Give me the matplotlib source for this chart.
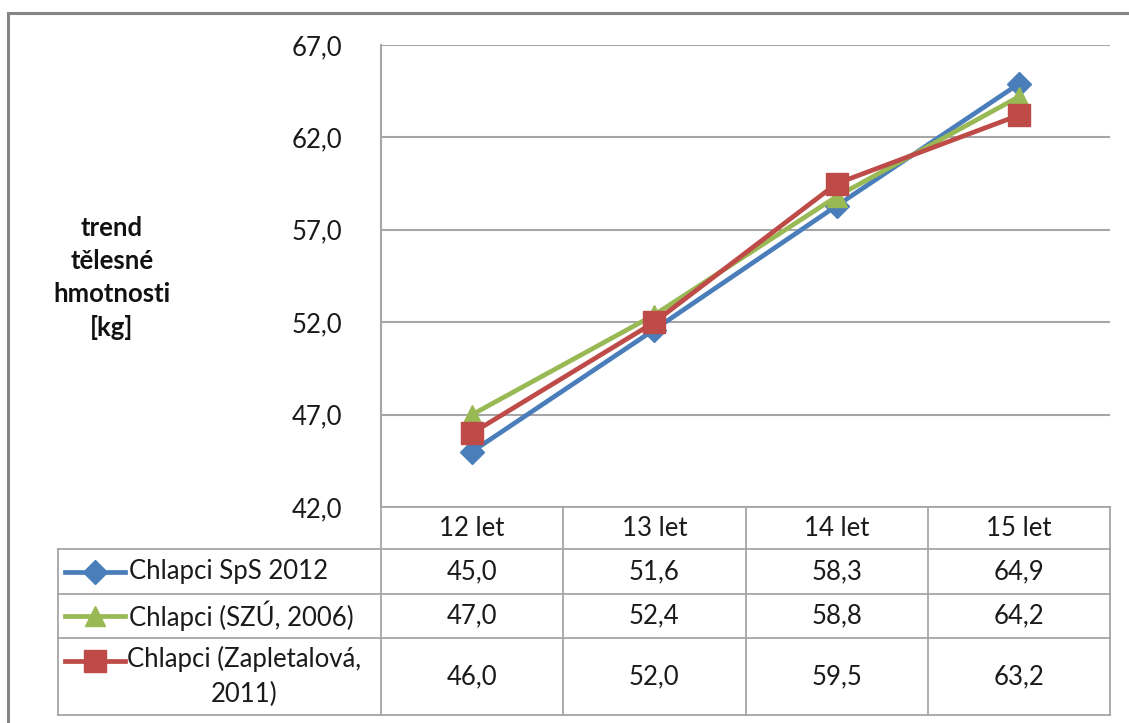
import matplotlib
matplotlib.use("Agg")
import matplotlib.pyplot as plt

plt.rcParams['font.family'] = ['Lato', 'DejaVu Sans']

categories = ["12 let", "13 let", "14 let", "15 let"]
series_names = ["Chlapci SpS 2012", "Chlapci (SZÚ, 2006)", "Chlapci (Zapletalová,\n2011)"]
sps_2012 = [45.0, 51.6, 58.3, 64.9]
szu_2006 = [47.0, 52.4, 58.8, 64.2]
zapletalova_2011 = [46.0, 52.0, 59.5, 63.2]
yticks = [42.0, 47.0, 52.0, 57.0, 62.0, 67.0]
ylabel = "trend\ntělesné\nhmotnosti\n[kg]"

series = [sps_2012, szu_2006, zapletalova_2011]
colors = ["#4a7ebb", "#98b954", "#be4b48"]
markers = ["D", "^", "s"]
msizes = [12, 14, 16]

FS = 18.5
TXT = "#1a1a1a"
W, H = 1129, 723
fig = plt.figure(figsize=(W / 100, H / 100), dpi=100)

# overlay axes in pixel coordinates for frame & table
ov = fig.add_axes([0, 0, 1, 1])
ov.set_xlim(0, W)
ov.set_ylim(H, 0)
ov.axis("off")

grid_c = "#a6a6a6"
# outer border
ov.plot([8, 8], [13, H + 5], color="#858585", lw=2.2, clip_on=False)
ov.plot([8, W + 5], [13, 13], color="#858585", lw=2.2, clip_on=False)

# main plot
L, R, T, B = 381, 1110, 45, 507
ax = fig.add_axes([L / W, (H - B) / H, (R - L) / W, (B - T) / H])
x = list(range(len(categories)))
for vals, c, m, ms in zip(series, colors, markers, msizes):
    ax.plot(x, vals, color=c, lw=3.4, marker=m, markersize=ms,
            markeredgecolor=c, zorder=3)
ax.set_xlim(-0.5, len(categories) - 0.5)
ax.set_ylim(yticks[0], yticks[-1])
ax.set_yticks(yticks)
ax.set_yticklabels([f"{v:.1f}".replace(".", ",") for v in yticks], fontsize=FS, color=TXT)
ax.set_xticks([])
ax.tick_params(axis="y", length=0, pad=28)
for s in ["top", "right", "bottom"]:
    ax.spines[s].set_visible(False)
ax.spines["left"].set_color(grid_c)
ax.spines["left"].set_linewidth(1.5)
ax.yaxis.grid(True, color=grid_c, lw=1.5)
ax.set_axisbelow(True)
ax.patch.set_alpha(0)

ov.text(112, 278, ylabel, ha="center", va="center", fontsize=FS,
        fontweight="bold", linespacing=1.45, color="#111111")

# data table
tl = 58
col_edges = [L + i * (R - L) / 4 for i in range(5)]
row_edges = [507, 549, 594, 638, 715]
lw_t = 1.3
ov.plot([L, R], [row_edges[0], row_edges[0]], color=grid_c, lw=lw_t)
for yy in row_edges[1:]:
    ov.plot([tl, R], [yy, yy], color=grid_c, lw=lw_t)
for xx in col_edges:
    ov.plot([xx, xx], [row_edges[0], row_edges[-1]], color=grid_c, lw=lw_t)
ov.plot([tl, tl], [row_edges[1], row_edges[-1]], color=grid_c, lw=lw_t)

for i, cat in enumerate(categories):
    cx = (col_edges[i] + col_edges[i + 1]) / 2
    ov.text(cx, (row_edges[0] + row_edges[1]) / 2, cat, ha="center", va="center",
            fontsize=FS, color=TXT)
for r, (vals, name, c, m, ms) in enumerate(zip(series, series_names, colors, markers, msizes)):
    cy = (row_edges[r + 1] + row_edges[r + 2]) / 2
    for i, v in enumerate(vals):
        cx = (col_edges[i] + col_edges[i + 1]) / 2
        ov.text(cx, cy, f"{v:.1f}".replace(".", ","), ha="center", va="center",
                fontsize=FS, color=TXT)
    ky = cy - (16 if "\n" in name else 0)
    ov.plot([65, 125], [ky, ky], color=c, lw=3.4)
    ov.plot([95], [ky], marker=m, color=c, markersize=ms, markeredgecolor=c)
    if "\n" in name:
        ov.text(244, cy, name, ha="center", va="center", fontsize=FS,
                color=TXT, multialignment="center", linespacing=1.45)
    else:
        ov.text(129, cy, name, ha="left", va="center", fontsize=FS, color=TXT)

fig.savefig("out.png", dpi=100)
